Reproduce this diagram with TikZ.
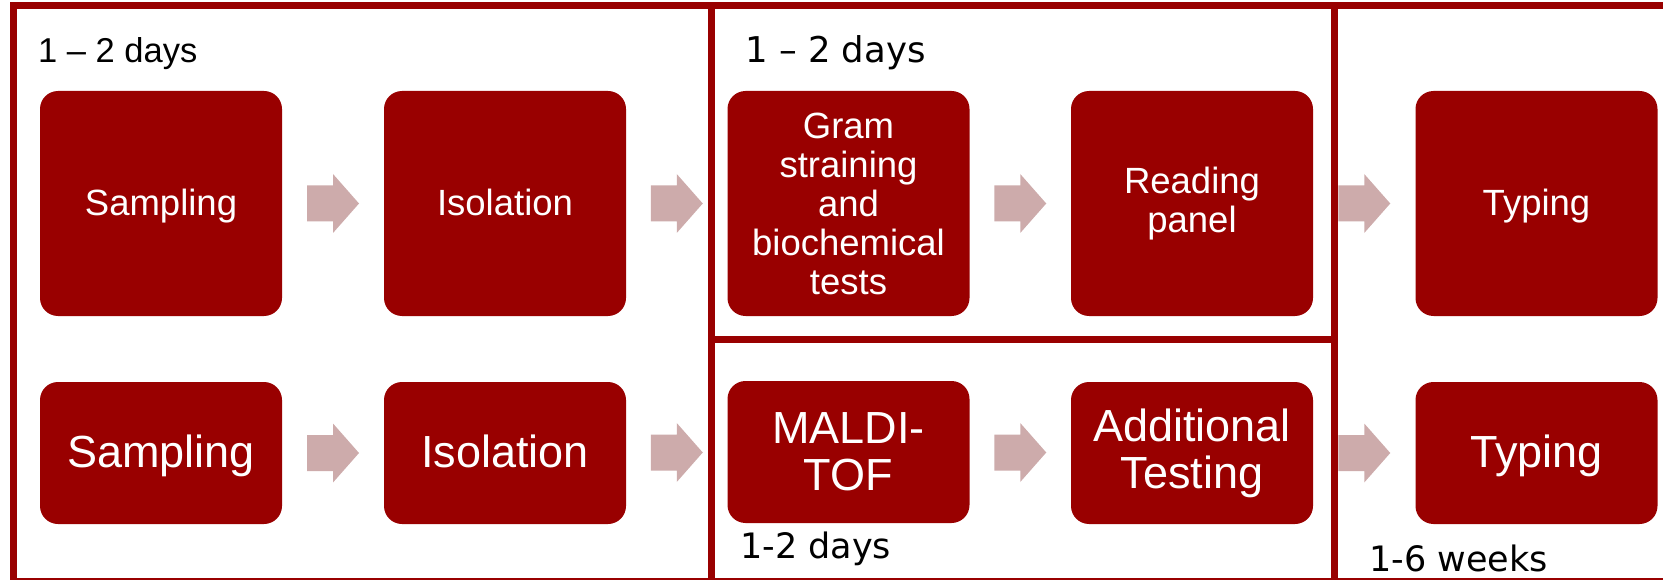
\documentclass[tikz,border=0pt]{standalone}
\usepackage{fontspec}
\setmainfont{Liberation Sans}
\newfontfamily\verdanalike{DejaVu Sans}
\usetikzlibrary{calc}
\definecolor{boxred}{HTML}{990000}
\definecolor{arrowpink}{HTML}{CDABAB}
\tikzset{
  stage/.style={rectangle, rounded corners=18pt, fill=boxred, text=white,
    minimum width=242pt, inner sep=0pt, align=center},
  upper/.style={stage, minimum height=225pt, font=\fontsize{36.5}{39}\selectfont},
  lower/.style={stage, minimum height=142pt, font=\fontsize{45}{47}\selectfont},
  % single-line labels: centre on the capitals, not on ascender + descender
  upperone/.style={upper, text height=26.1pt, text depth=1.8pt},
  lowerone/.style={lower, text height=32.2pt, text depth=2.3pt},
  panel/.style={draw=boxred, line width=6.5pt},
  daylabel/.style={anchor=base west, inner sep=0pt, text=black},
}
% block arrow centred in the gap between two stage boxes
\newcommand\flowarrow[2]{%
  \path ($(#1.east)!0.5!(#2.west)$) coordinate (m);
  \fill[arrowpink] ($(m)+(-26,-18)$) -- ($(m)+(0,-18)$) -- ($(m)+(0,-29.5)$)
    -- ($(m)+(26,0)$) -- ($(m)+(0,29.5)$) -- ($(m)+(0,18)$) -- ($(m)+(-26,18)$) -- cycle;
}
\begin{document}
\begin{tikzpicture}[x=1pt,y=-1pt]
\useasboundingbox (0,0) rectangle (1663,580);
\clip (0,0) rectangle (1663,580);

% stages, conventional route
\node[upperone] (s1) at (161,203.5) {Sampling};
\node[upperone] (i1) at (505,203.5) {Isolation};
\node[upper] (g1) at (848.5,203.5) {Gram\\straining\\and\\biochemical\\tests};
\node[upper] (r1) at (1192,203.5) {Reading\\panel};
\node[upperone] (t1) at (1536.5,203.5) {Typing};

% stages, MALDI-TOF route
\node[lowerone] (s2) at (161,453) {Sampling};
\node[lowerone] (i2) at (505,453) {Isolation};
\node[lower] (m2) at (848.5,452) {MALDI-\\TOF};
\node[lower] (a2) at (1192,453) {Additional\\Testing};
\node[lowerone] (t2) at (1536.5,453) {Typing};

\flowarrow{s1}{i1}
\flowarrow{i1}{g1}
\flowarrow{g1}{r1}
\flowarrow{r1}{t1}
\flowarrow{s2}{i2}
\flowarrow{i2}{m2}
\flowarrow{m2}{a2}
\flowarrow{a2}{t2}

% phase frames
\draw[panel] (13.3,5.5) rectangle (711.5,581.5);
\draw[panel] (711.5,5.5) rectangle (1334.5,339.5);
\draw[panel] (711.5,339.5) rectangle (1334.5,581.5);
\draw[panel] (1334.5,5.5) rectangle (1672,581.5);

% durations
\node[daylabel, font=\fontsize{34.5}{40}\selectfont] (d1) at (38,63) {1 – 2 days};
\node[daylabel, font=\verdanalike\fontsize{35.5}{40}\selectfont] (d2) at (745,63) {1 – 2 days};
\node[daylabel, font=\verdanalike\fontsize{35}{40}\selectfont] (d3) at (740,558) {1-2 days};
\node[daylabel, font=\verdanalike\fontsize{35}{40}\selectfont] (d4) at (1369,571) {1-6 weeks};
\end{tikzpicture}
\end{document}
